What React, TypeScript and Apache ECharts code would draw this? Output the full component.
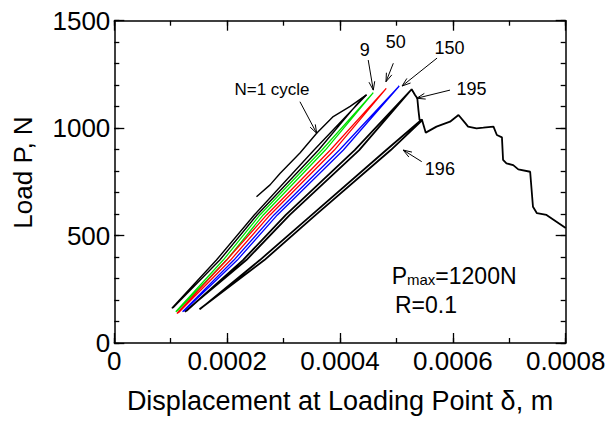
import React, { useEffect, useRef } from 'react';
import * as echarts from 'echarts';

type Pt = [number, number];

// Displacement (m) vs load (N)
const n1Initial: Pt[] = [
  [2.52e-4, 681], [2.76e-4, 736], [2.94e-4, 790], [3.29e-4, 884], [3.59e-4, 977],
  [3.88e-4, 1054], [4.18e-4, 1101], [4.47e-4, 1155],
];
const earlyLoop: Pt[] = [
  [4.47e-4, 1155], [3.54e-4, 898], [2.48e-4, 596], [1.81e-4, 386], [1.02e-4, 162],
  [1.05e-4, 166], [1.87e-4, 386], [2.53e-4, 596], [3.62e-4, 898], [4.38e-4, 1136], [4.47e-4, 1155],
];
const loop9: Pt[] = [
  [4.59e-4, 1165], [3.68e-4, 898], [2.58e-4, 596], [1.93e-4, 386], [1.09e-4, 146],
  [1.12e-4, 150], [1.99e-4, 386], [2.64e-4, 596], [3.74e-4, 898], [4.59e-4, 1165],
];
const loop50: Pt[] = [
  [4.82e-4, 1185], [3.83e-4, 898], [2.7e-4, 596], [1.99e-4, 386], [1.11e-4, 138],
  [1.14e-4, 142], [2.06e-4, 386], [2.76e-4, 596], [3.9e-4, 898], [4.82e-4, 1185],
];
const loop150: Pt[] = [
  [5.05e-4, 1196], [3.99e-4, 898], [2.83e-4, 596], [2.12e-4, 386], [1.21e-4, 146],
  [1.24e-4, 150], [2.18e-4, 386], [2.89e-4, 596], [4.06e-4, 898], [5.05e-4, 1196],
];
const loop195: Pt[] = [
  [5.27e-4, 1181], [4.34e-4, 898], [3.11e-4, 596], [2.34e-4, 386], [1.25e-4, 146],
  [1.28e-4, 150], [2.28e-4, 386], [3.04e-4, 596], [4.26e-4, 898], [5.27e-4, 1181],
  [5.33e-4, 1154], [5.37e-4, 1139], [5.39e-4, 1084], [5.41e-4, 1038], [5.45e-4, 1035],
];
const loop196: Pt[] = [
  [5.45e-4, 1035], [4.9e-4, 898], [3.57e-4, 596], [2.66e-4, 386], [1.51e-4, 157],
  [1.53e-4, 160], [2.58e-4, 386], [3.5e-4, 596], [4.82e-4, 898], [5.45e-4, 1041],
];
const failureCurve: Pt[] = [
  [5.45e-4, 1041], [5.52e-4, 979], [5.71e-4, 1007], [5.95e-4, 1030], [6.1e-4, 1061],
  [6.22e-4, 1023], [6.27e-4, 1007], [6.42e-4, 999], [6.54e-4, 1002], [6.72e-4, 1007],
  [6.78e-4, 968], [6.87e-4, 957], [6.89e-4, 852], [6.95e-4, 836], [7.07e-4, 828],
  [7.16e-4, 808], [7.37e-4, 797], [7.42e-4, 634], [7.49e-4, 604], [7.66e-4, 596], [8.0e-4, 535],
];

// Axis ranges and tick spacing
const xRange = [0, 0.0008];
const yRange = [0, 1500];
const xMajorStep = 0.0002;
const xMinorStep = 0.0001;
const yMajorStep = 500;
const yMinorStep = 100;

// Annotations (data coordinates)
const labelTexts = ['N=1 cycle', '9', '50', '150', '195', '196'];
const labelPos: Pt[] = [
  [2.795e-4, 1182], [4.44e-4, 1364], [4.99e-4, 1403], [5.94e-4, 1373], [6.33e-4, 1182], [5.77e-4, 810],
];
const arrowTail: Pt[] = [
  [3.29e-4, 1123], [4.5e-4, 1317], [4.945e-4, 1302], [5.72e-4, 1326], [5.95e-4, 1177], [5.448e-4, 844],
];
const arrowHead: Pt[] = [
  [3.587e-4, 976], [4.59e-4, 1177], [4.815e-4, 1216], [5.1e-4, 1196], [5.36e-4, 1139], [5.12e-4, 898],
];
const condPos: Pt[] = [[4.916e-4, 330], [4.975e-4, 177]];

const FONT = "'Liberation Sans', Arial, Helvetica, sans-serif";

export default function App() {
  const ref = useRef<HTMLDivElement>(null);
  useEffect(() => {
    document.body.style.margin = '0';
    const chart = echarts.init(ref.current!, null, { renderer: 'svg' });
    const axLine = (show: boolean) => ({ show, onZero: false, lineStyle: { color: '#000', width: 1.5 } });
    const tick = (len: number) => ({ show: true, inside: true, length: len, lineStyle: { color: '#000', width: 1.3 } });
    const xAx = (position: string, step: number, len: number, main: boolean) => ({
      type: 'value', min: xRange[0], max: xRange[1], interval: step, position,
      axisLine: axLine(main), axisTick: tick(len), splitLine: { show: false }, axisLabel: { show: false },
    });
    const yAx = (position: string, step: number, len: number, main: boolean) => ({
      type: 'value', min: yRange[0], max: yRange[1], interval: step, position,
      axisLine: axLine(main), axisTick: tick(len), splitLine: { show: false }, axisLabel: { show: false },
    });
    const line = (data: Pt[], color: string, width: number, z = 2) => ({
      type: 'line', data, showSymbol: false, symbol: 'none', xAxisIndex: 0, yAxisIndex: 0, z,
      lineStyle: { color, width }, clip: true, silent: true,
    });
    chart.setOption({
      animation: false,
      grid: { left: 114.3, right: 44.3, top: 20.7, bottom: 80, containLabel: false },
      xAxis: [
        {
          ...xAx('bottom', xMajorStep, 10, true),
          name: 'Displacement at Loading Point δ, m', nameLocation: 'middle', nameGap: 44,
          nameTextStyle: { fontSize: 27, fontFamily: FONT, color: '#000' },
          axisLabel: { show: true, fontSize: 26, fontFamily: FONT, color: '#000', margin: 5,
            formatter: (v: number) => (v === 0 ? '0' : v.toFixed(4)) },
        },
        xAx('top', xMajorStep, 10, true),
        xAx('bottom', xMinorStep, 5, false),
        xAx('top', xMinorStep, 5, false),
      ],
      yAxis: [
        { ...yAx('left', yMajorStep, 10, true), axisLabel: { show: true, fontSize: 26, fontFamily: FONT, color: '#000', margin: 4,
          formatter: (v: number) => String(Math.round(v)) } },
        yAx('right', yMajorStep, 10, true),
        yAx('left', yMinorStep, 5, false),
        yAx('right', yMinorStep, 5, false),
      ],
      series: [
        line(earlyLoop, '#000', 1.4),
        line(n1Initial, '#000', 1.4),
        line(loop195, '#000', 1.8),
        line(loop196, '#000', 1.8),
        line(failureCurve, '#000', 1.8),
        line(loop9, '#00e000', 1.3, 3),
        line(loop50, '#ff0000', 1.3, 3),
        line(loop150, '#0000ff', 1.3, 3),
      ],
    });
    const toPx = (p: Pt) => chart.convertToPixel({ seriesIndex: 0 }, p) as number[];
    const g: any[] = [];
    labelTexts.forEach((t, i) => {
      const [x, y] = toPx(labelPos[i]);
      g.push({ type: 'text', x, y, z: 10, style: { text: t, fontSize: i === 0 ? 17 : 18, fontFamily: FONT, fill: '#000', align: 'center', verticalAlign: 'middle' } });
    });
    arrowTail.forEach((tp, i) => {
      const [x1, y1] = toPx(tp);
      const [x2, y2] = toPx(arrowHead[i]);
      const ang = Math.atan2(y1 - y2, x1 - x2);
      const L = 9, a = 0.33;
      g.push({ type: 'line', z: 10, shape: { x1, y1, x2, y2 }, style: { stroke: '#000', lineWidth: 1 } });
      g.push({ type: 'polyline', z: 10, shape: { points: [
        [x2 + L * Math.cos(ang + a), y2 + L * Math.sin(ang + a)], [x2, y2],
        [x2 + L * Math.cos(ang - a), y2 + L * Math.sin(ang - a)]] },
        style: { stroke: '#000', lineWidth: 1, fill: 'none' } });
    });
    const [px0, py0] = toPx(condPos[0]);
    g.push({ type: 'text', x: px0, y: py0, z: 10, style: {
      text: '{a|P}{b|max}{a|=1200N}', align: 'left', verticalAlign: 'middle', fill: '#000',
      rich: {
        a: { fontSize: 23, fontFamily: FONT, lineHeight: 30, verticalAlign: 'bottom', fill: '#000' },
        b: { fontSize: 15, fontFamily: FONT, lineHeight: 15, verticalAlign: 'bottom', fill: '#000' },
      } } });
    const [px1, py1] = toPx(condPos[1]);
    g.push({ type: 'text', x: px1, y: py1, z: 10, style: { text: 'R=0.1', fontSize: 23, fontFamily: FONT, fill: '#000', align: 'left', verticalAlign: 'middle' } });
    g.push({ type: 'text', x: 23.3, y: 172.5, rotation: Math.PI / 2, z: 10, style: { text: 'Load P, N', fontSize: 26, fontFamily: FONT, fill: '#000', align: 'center', verticalAlign: 'middle' } });
    chart.setOption({ graphic: g });
    return () => chart.dispose();
  }, []);
  return <div ref={ref} style={{ width: 610, height: 423 }} />;
}
